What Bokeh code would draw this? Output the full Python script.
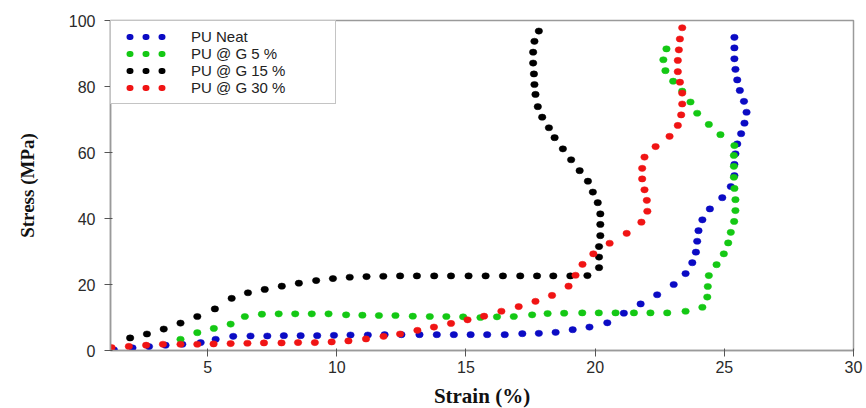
from bokeh.plotting import figure
from bokeh.models import Range1d, Legend, LegendItem, FixedTicker
from bokeh.embed import file_html
from bokeh.resources import INLINE

# ---- data ----
series_names = ["PU Neat", "PU @ G 5 %", "PU @ G 15 %", "PU @ G 30 %"]
series_colors = ["#0b0bc4", "#14c814", "#000000", "#f01414"]

neat_x = [1.37, 2.09, 2.73, 3.37, 4.02, 4.73, 5.31, 5.99, 6.66, 7.31,
          7.95, 8.6, 9.24, 9.89, 10.53, 11.2, 11.85, 12.5, 13.2, 13.87,
          14.53, 15.18, 15.82, 16.5, 17.18, 17.82, 18.47, 19.13, 19.78, 20.47,
          21.11, 21.76, 22.4, 23.04, 23.5, 23.76, 23.9, 23.95, 24.0, 24.15,
          24.44, 24.92, 25.25, 25.39, 25.39, 25.43, 25.5, 25.65, 25.78, 25.86,
          25.76, 25.6, 25.5, 25.43, 25.39, 25.39, 25.39]
neat_y = [0.2, 0.8, 1.2, 1.6, 1.9, 2.4, 3.4, 4.3, 4.4, 4.4,
          4.5, 4.5, 4.5, 4.6, 4.7, 4.7, 4.8, 4.8, 4.8, 4.8,
          4.8, 4.8, 4.8, 4.8, 5.1, 5.2, 5.5, 6.3, 7.1, 8.4,
          11.3, 14.1, 16.9, 20.0, 23.3, 26.6, 29.8, 33.1, 36.3, 39.6,
          42.9, 46.3, 49.7, 53.0, 56.4, 59.6, 62.6, 65.7, 68.9, 72.2,
          75.5, 78.8, 82.0, 85.2, 88.4, 91.7, 94.9]

g5_x = [3.95, 4.6, 5.24, 5.89, 6.44, 7.1, 7.75, 8.39, 9.03, 9.68,
        10.36, 10.99, 11.63, 12.27, 12.94, 13.6, 14.24, 14.89, 15.56, 16.2,
        16.85, 17.56, 18.16, 18.8, 19.5, 20.14, 20.79, 21.5, 22.14, 22.79,
        23.5, 24.15, 24.34, 24.36, 24.4, 24.7, 24.98, 25.15, 25.25, 25.38,
        25.43, 25.43, 25.39, 25.37, 25.37, 25.37, 25.39, 24.85, 24.4, 23.95,
        23.69, 23.37, 23.02, 22.72, 22.64, 22.76]
g5_y = [3.4, 5.4, 6.7, 8.0, 10.3, 11.0, 11.1, 11.1, 11.1, 11.1,
        10.8, 10.7, 10.6, 10.6, 10.4, 10.3, 10.3, 10.2, 10.0, 10.2,
        10.3, 10.8, 11.2, 11.3, 11.4, 11.4, 11.4, 11.4, 11.4, 11.4,
        11.9, 13.1, 16.2, 19.4, 22.7, 26.0, 29.3, 32.6, 35.8, 39.1,
        42.4, 45.7, 49.1, 52.5, 55.8, 59.1, 62.1, 65.4, 68.5, 71.9,
        75.3, 78.6, 81.6, 84.8, 88.1, 91.4]

g15_x = [2.0, 2.65, 3.3, 3.95, 4.6, 5.28, 5.93, 6.56, 7.21, 7.87,
         8.53, 9.2, 9.85, 10.5, 11.15, 11.8, 12.45, 13.1, 13.77, 14.42,
         15.1, 15.76, 16.43, 17.1, 17.75, 18.38, 19.04, 19.7, 20.15, 20.15,
         20.15, 20.2, 20.2, 20.2, 20.1, 19.91, 19.72, 19.4, 19.07, 18.75,
         18.43, 18.21, 17.95, 17.78, 17.69, 17.65, 17.63, 17.6, 17.6, 17.65,
         17.82]
g15_y = [3.8, 5.0, 6.5, 8.3, 10.3, 12.6, 15.8, 17.5, 18.5, 19.5,
         20.4, 21.2, 21.8, 22.2, 22.4, 22.5, 22.6, 22.6, 22.6, 22.6,
         22.6, 22.6, 22.6, 22.6, 22.6, 22.6, 22.6, 22.7, 25.1, 28.3,
         31.5, 34.8, 38.2, 41.4, 44.8, 48.0, 51.3, 54.5, 57.8, 61.1,
         64.5, 67.5, 70.7, 73.9, 77.6, 80.6, 83.8, 87.1, 90.4, 93.7,
         96.8]

g30_x = [1.28, 1.95, 2.62, 3.27, 3.95, 4.6, 5.23, 5.89, 6.54, 7.18,
         7.86, 8.5, 9.15, 9.8, 10.45, 11.13, 11.81, 12.45, 13.12, 13.76,
         14.42, 15.06, 15.7, 16.37, 17.04, 17.69, 18.33, 18.97, 19.24, 19.51,
         19.93, 20.56, 21.22, 21.79, 22.02, 22.0, 21.91, 21.82, 21.82, 21.91,
         22.34, 22.88, 23.2, 23.33, 23.37, 23.37, 23.28, 23.2, 23.2, 23.24,
         23.28, 23.37]
g30_y = [0.9, 1.25, 1.6, 1.9, 1.9, 1.9, 2.0, 2.1, 2.2, 2.3,
         2.3, 2.4, 2.4, 2.6, 2.9, 3.5, 4.3, 5.0, 6.1, 7.1,
         8.2, 9.3, 10.4, 11.9, 13.3, 14.9, 16.7, 19.5, 22.8, 26.1,
         29.3, 32.5, 35.5, 38.9, 42.2, 45.5, 48.7, 52.0, 55.2, 58.6,
         61.8, 64.9, 68.2, 71.4, 74.7, 78.0, 81.3, 84.5, 87.9, 91.1,
         94.4, 97.8]

x_ticks = [5, 10, 15, 20, 25, 30]
y_ticks = [0, 20, 40, 60, 80, 100]

series = [(neat_x, neat_y), (g5_x, g5_y), (g15_x, g15_y), (g30_x, g30_y)]

# ---- figure ----
p = figure(frame_width=743, frame_height=330,
           x_range=Range1d(1.24, 30), y_range=Range1d(0, 100),
           output_backend="svg", toolbar_location=None,
           min_border_left=110, min_border_right=13,
           min_border_top=20, min_border_bottom=58,
           background_fill_color="white", border_fill_color="white")
p.grid.visible = False
p.outline_line_color = "#9a9a9a"
p.outline_line_width = 1.5

p.xaxis.ticker = FixedTicker(ticks=x_ticks)
p.yaxis.ticker = FixedTicker(ticks=y_ticks)
p.axis.axis_line_color = "#9a9a9a"
p.axis.axis_line_width = 1.5
p.axis.major_tick_line_color = "#555555"
p.axis.major_tick_out = 6
p.axis.minor_tick_line_color = None
p.axis.major_label_text_font = "Liberation Sans"
p.axis.major_label_text_font_size = "16px"
p.axis.major_label_text_color = "#2a2a2a"
p.axis.axis_label_text_font = "Liberation Serif"
p.axis.axis_label_text_font_style = "bold"
p.axis.axis_label_text_color = "#111111"

p.xaxis.axis_label = "Strain (%)"
p.yaxis.axis_label = "Stress (MPa)"
p.xaxis.axis_label_text_font_size = "21px"
p.yaxis.axis_label_text_font_size = "19px"
p.xaxis.major_label_standoff = 4
p.yaxis.major_label_standoff = 9
p.xaxis.axis_label_standoff = 8
p.yaxis.axis_label_standoff = 28

items = []
for (xs, ys), name, col in zip(series, series_names, series_colors):
    p.ellipse(x=xs, y=ys, width=7.5, height=6.2,
              width_units="screen", height_units="screen",
              fill_color=col, line_color=col, line_width=0.5)
    # one-point line: draws nothing in the plot, only provides the legend glyph
    proxy = p.line(x=xs[:1], y=ys[:1], line_color=col, line_width=6,
                   line_dash="1 15", line_dash_offset=5, line_cap="round")
    items.append(LegendItem(label=name, renderers=[proxy]))

legend = Legend(items=items, location="top_left", margin=0,
                padding=7, spacing=0, glyph_width=49, glyph_height=17,
                label_height=17, label_standoff=24, label_width=137,
                label_text_font="Liberation Sans", label_text_font_size="15px",
                label_text_color="#222222",
                border_line_color="#8a8a8a", border_line_width=1.2,
                background_fill_color="white", background_fill_alpha=1)
p.add_layout(legend)

open("out.html", "w").write(file_html(p, INLINE))
